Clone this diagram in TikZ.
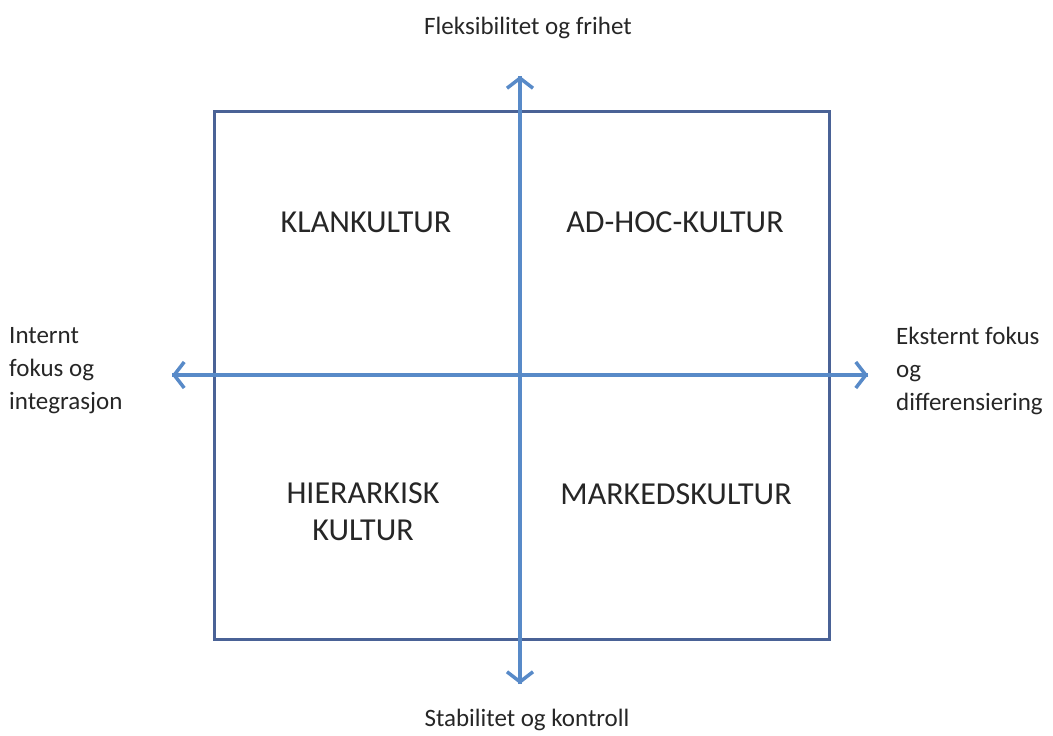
\documentclass[tikz,border=0pt]{standalone}
\usepackage{fontspec}
\setmainfont{Carlito}
\usetikzlibrary{arrows.meta,positioning}
\definecolor{framblue}{RGB}{74,98,150}
\definecolor{axisblue}{RGB}{88,138,200}
\tikzset{
  kulturlabel/.style={font=\fontsize{32}{37}\selectfont,align=center,text=black!85},
  aksetekst/.style={font=\fontsize{25}{33}\selectfont,align=left,text=black!85,inner sep=0pt},
  rammeline/.style={draw=framblue,line width=3pt},
  aksepil/.style={draw=axisblue,line width=3.5pt,-{Straight Barb[length=10pt,width=26pt,line width=3.5pt]}}
}
\begin{document}
\begin{tikzpicture}[x=1pt,y=-1pt]
  \useasboundingbox (0,0) rectangle (1053,736);
  % frame
  \draw[rammeline] (214,111) rectangle (829,639);
  % axes
  \coordinate (topp) at (520,76);
  \coordinate (bunn) at (520,684);
  \coordinate (venstre) at (172,375);
  \coordinate (hoyre) at (868,375);
  \draw[aksepil] (bunn) -- (topp);
  \draw[aksepil] (topp) -- (bunn);
  \draw[aksepil] (hoyre) -- (venstre);
  \draw[aksepil] (venstre) -- (hoyre);
  % axis texts
  \node[aksetekst,anchor=center] (fleks) at (528,28) {Fleksibilitet og frihet};
  \node[aksetekst,anchor=center] (stab) at (527,720) {Stabilitet og kontroll};
  \node[aksetekst,anchor=north west] (intern) at (9,327) {Internt\\fokus og\\integrasjon};
  \node[aksetekst,anchor=north west] (ekstern) at (896,327) {Eksternt fokus\\og\\differensiering};
  % quadrants
  \node[kulturlabel] (klan) at (366,222) {KLANKULTUR};
  \node[kulturlabel] (adhoc) at (675,222) {AD-HOC-KULTUR};
  \node[kulturlabel] (hierark) at (363,512) {HIERARKISK\\KULTUR};
  \node[kulturlabel] (marked) at (676,494) {MARKEDSKULTUR};
\end{tikzpicture}
\end{document}
